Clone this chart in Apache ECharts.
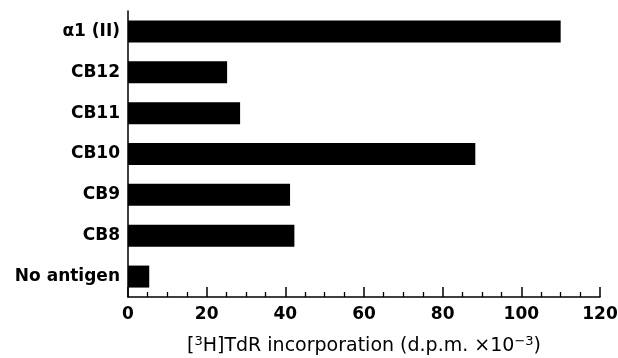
<!DOCTYPE html>
<html>
<head>
<meta charset="utf-8">
<script src="https://cdn.jsdelivr.net/npm/echarts@6/dist/echarts.min.js"></script>
<style>
  html, body { margin: 0; padding: 0; background: #fff; }
  #chart { width: 618px; height: 358px; }
</style>
</head>
<body>
<div id="chart"></div>
<script>
// antigens, listed bottom to top as the category axis draws them
var antigens = ['No antigen', 'CB8', 'CB9', 'CB10', 'CB11', 'CB12', 'α1 (II)'];
// [3H]TdR incorporation, d.p.m. x 10^-3
var incorporation = [5.4, 42.3, 41.2, 88.3, 28.5, 25.2, 110];
var xTicks = [0, 20, 40, 60, 80, 100, 120];

var font = 'DejaVu Sans';
var myChart = echarts.init(document.getElementById('chart'));
myChart.setOption({
    animation: false,
    backgroundColor: '#fff',
    grid: { left: 128, right: 18, top: 11, bottom: 61, outerBoundsMode: 'none', containLabel: false },
    xAxis: {
        type: 'value',
        min: xTicks[0],
        max: xTicks[xTicks.length - 1],
        interval: xTicks[1] - xTicks[0],
        splitLine: { show: false },
        axisLine: { show: true, lineStyle: { color: '#000', width: 1.5 } },
        axisTick: { show: true, inside: true, length: 10, lineStyle: { color: '#000', width: 1.5 } },
        minorTick: { show: true, splitNumber: 4, length: 5, lineStyle: { color: '#000', width: 1.3 } },
        axisLabel: { color: '#000', fontFamily: font, fontWeight: 'bold', fontSize: 17, margin: 9 },
        name: '[{sup|3}H]TdR incorporation (d.p.m. ×10{sup|−3})',
        nameLocation: 'middle',
        nameGap: 38,
        nameTextStyle: {
            color: '#000', fontFamily: font, fontSize: 19, lineHeight: 22,
            rich: { sup: { fontSize: 13, lineHeight: 22, verticalAlign: 'top', padding: [0, 0, 8, 0], color: '#000', fontFamily: font } }
        }
    },
    yAxis: {
        type: 'category',
        data: antigens,
        axisLine: { show: true, lineStyle: { color: '#000', width: 1.5 } },
        axisTick: { show: false },
        axisLabel: { color: '#000', fontFamily: font, fontWeight: 'bold', fontSize: 17, margin: 8 }
    },
    series: [{
        type: 'bar',
        data: incorporation,
        barWidth: 22,
        itemStyle: { color: '#000' }
    }]
});
</script>
</body>
</html>
